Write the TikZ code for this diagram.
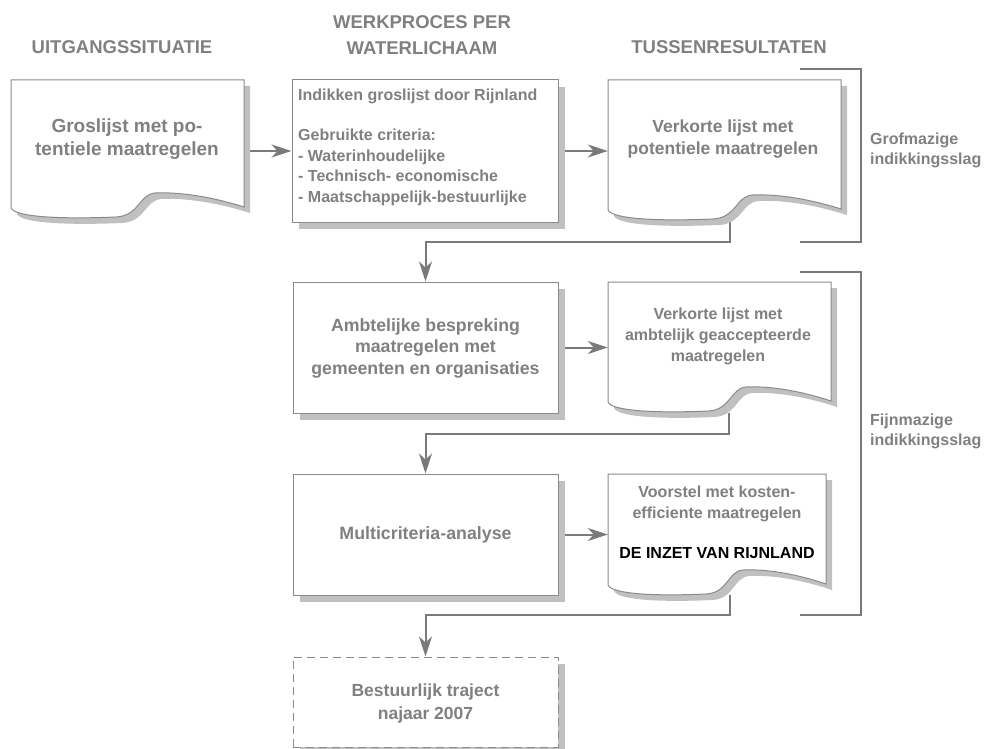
\documentclass[tikz,border=0pt]{standalone}
\usepackage{fontspec}
\setmainfont{Liberation Sans}
\usetikzlibrary{arrows.meta,shadows,backgrounds}
\definecolor{txtgray}{HTML}{808080}
\definecolor{linegray}{HTML}{7A7A7A}
\definecolor{shadowgray}{HTML}{C0C0C0}
\definecolor{bordergray}{HTML}{8A8A8A}
\newcommand\fsz[2]{\fontsize{#1}{#2}\selectfont\bfseries}
\newcommand\docshape[4]{%
\fill[shadowgray,shift={(6,6)}] ({#1},{#2}) -- ({#1+#3},{#2}) -- ({#1+#3},{#2+#4-1}) .. controls ({#1+0.85*#3},{#2+#4-12}) and ({#1+0.72*#3},{#2+#4-16}) .. ({#1+0.62*#3},{#2+#4-15}) .. controls ({#1+0.55*#3},{#2+#4-14}) and ({#1+0.55*#3},{#2+#4+8}) .. ({#1+0.45*#3},{#2+#4+9}) .. controls ({#1+0.25*#3},{#2+#4+11}) and ({#1+0.02*#3},{#2+#4+10}) .. ({#1},{#2+#4}) -- cycle;
\draw[bordergray,line width=1pt,fill=white] ({#1},{#2}) -- ({#1+#3},{#2}) -- ({#1+#3},{#2+#4-1}) .. controls ({#1+0.85*#3},{#2+#4-12}) and ({#1+0.72*#3},{#2+#4-16}) .. ({#1+0.62*#3},{#2+#4-15}) .. controls ({#1+0.55*#3},{#2+#4-14}) and ({#1+0.55*#3},{#2+#4+8}) .. ({#1+0.45*#3},{#2+#4+9}) .. controls ({#1+0.25*#3},{#2+#4+11}) and ({#1+0.02*#3},{#2+#4+10}) .. ({#1},{#2+#4}) -- cycle;}
\tikzset{
  boxshadow/.style={drop shadow={shadow xshift=7pt,shadow yshift=-7pt,fill=shadowgray,opacity=1}},
  box/.style={draw=bordergray,line width=1pt,fill=white,boxshadow,inner sep=0pt},
  docnode/.style={inner sep=0pt},
  txt/.style={text=txtgray,align=center,inner sep=0pt},
  title/.style={text=txtgray,align=center,inner sep=0pt,font=\fsz{18.5}{26}},
  conn/.style={draw=linegray,line width=2pt,-{Stealth[length=20pt,width=13pt,inset=6pt]}},
  bracket/.style={draw=linegray,line width=2pt}
}
\begin{document}
\begin{tikzpicture}[x=1pt,y=-1pt]
\clip (0,0) rectangle (985,749);
% titles
\node[title] (t1) at (122,47) {UITGANGSSITUATIE};
\node[title] (t2) at (422,35) {WERKPROCES PER\\WATERLICHAAM};
\node[title] (t3) at (729,47) {TUSSENRESULTATEN};
% doc 1
\docshape{11}{80}{233}{128}
\node[docnode,minimum width=233pt,minimum height=128pt] (d1) at (127.5,144) {};
\node[txt,font=\fsz{19}{23}] (d1t) at (127,139) {Groslijst met po-\\tentiele maatregelen};
% box 2
\node[box,minimum width=266pt,minimum height=142pt] (b2) at (425,151) {};
\node[txt,align=left,anchor=west,font=\fsz{16}{20.4}] (b2t) at (298,147) {Indikken groslijst door Rijnland\\[20.4pt]Gebruikte criteria:\\- Waterinhoudelijke\\- Technisch- economische\\- Maatschappelijk-bestuurlijke};
% doc 3
\docshape{608}{80}{233}{130}
\node[docnode,minimum width=233pt,minimum height=130pt] (d3) at (724.5,145) {};
\node[txt,font=\fsz{17.5}{22}] (d3t) at (723,139) {Verkorte lijst met\\potentiele maatregelen};
% box 3
\node[box,minimum width=265pt,minimum height=131pt] (b3) at (425.5,347.5) {};
\node[txt,font=\fsz{17.7}{21.5}] (b3t) at (425.5,348) {Ambtelijke bespreking\\maatregelen met\\gemeenten en organisaties};
% doc 4
\docshape{608}{282}{223}{120}
\node[docnode,minimum width=223pt,minimum height=120pt] (d4) at (719.5,342) {};
\node[txt,font=\fsz{16}{21}] (d4t) at (718,336) {Verkorte lijst met\\ambtelijk geaccepteerde\\maatregelen};
% box 5
\node[box,minimum width=265pt,minimum height=121pt] (b5) at (425.5,534.5) {};
\node[txt,font=\fsz{17.8}{22}] (b5t) at (425.5,535) {Multicriteria-analyse};
% doc 5
\docshape{608}{474}{218}{111}
\node[docnode,minimum width=218pt,minimum height=111pt] (d5) at (717,529.5) {};
\node[txt,font=\fsz{16}{21}] (d5t) at (717,522) {Voorstel met kosten-\\efficiente maatregelen\\[19pt]{\color{black}DE INZET VAN RIJNLAND}};
% dashed box 6
\node[box,dashed,dash pattern=on 8pt off 5pt,minimum width=265pt,minimum height=90pt] (b6) at (425.5,702) {};
\node[txt,font=\fsz{17.5}{23}] (b6t) at (425.5,703) {Bestuurlijk traject\\najaar 2007};
% side labels
\node[txt,align=left,anchor=west,font=\fsz{16}{20}] (g1) at (870,150) {Grofmazige\\indikkingsslag};
\node[txt,align=left,anchor=west,font=\fsz{16}{20}] (f1) at (870,431) {Fijnmazige\\indikkingsslag};
% connectors
\coordinate (d3out) at (730,222);
\coordinate (d4out) at (729,413);
\coordinate (d5out) at (730,595);
\begin{pgfonlayer}{background}
\draw[conn] (d1.east |- b2.west) -- (b2.west);
\draw[conn] (b2.east) -- (b2.east -| d3.west);
\draw[conn] (b3.east) -- (b3.east -| d4.west);
\draw[conn] (b5.east) -- (b5.east -| d5.west);
\draw[conn] (d3out) -- ++(0,20) -| (b3.north);
\draw[conn] (d4out) -- ++(0,21) -| (b5.north);
\draw[conn] (d5out) -- ++(0,20) -| (b6.north);
\end{pgfonlayer}
% brackets
\draw[bracket] (800,69) -| (861,242) -- (800,242);
\draw[bracket] (800,272) -| (861,615) -- (800,615);
\end{tikzpicture}
\end{document}
